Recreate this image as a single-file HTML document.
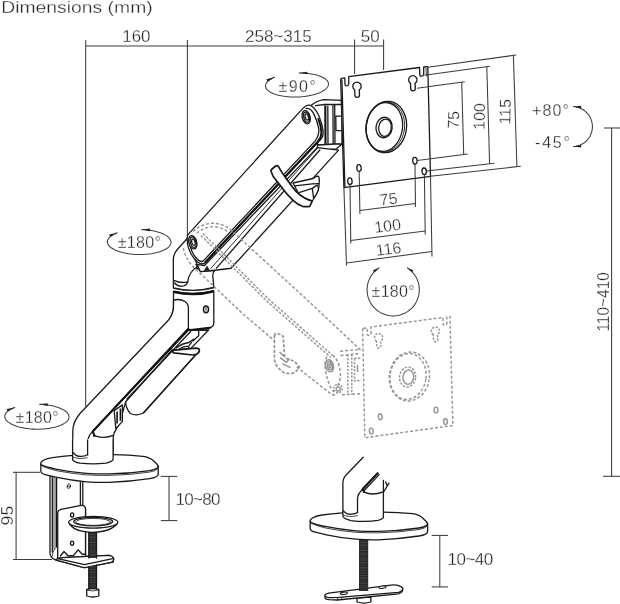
<!DOCTYPE html>
<html><head><meta charset="utf-8">
<style>
html,body{margin:0;padding:0;background:#fff;}
body{width:620px;height:604px;overflow:hidden;font-family:"Liberation Sans",sans-serif;}
svg{display:block;position:absolute;left:0;top:0;will-change:transform;opacity:0.999;}
text{font-family:"Liberation Sans",sans-serif;fill:#262626;stroke:#fff;stroke-width:0.3px;paint-order:fill stroke;}
.d{stroke:#3c3c3c;stroke-width:1.05;fill:none;}
.k{stroke:#1a1a1a;stroke-width:1.3;fill:none;stroke-linecap:round;stroke-linejoin:round;}
.kf{stroke:#1a1a1a;stroke-width:1.3;fill:#fff;stroke-linecap:round;stroke-linejoin:round;}
.t{stroke:#222;stroke-width:0.85;fill:none;stroke-linecap:round;stroke-linejoin:round;}
.tf{stroke:#222;stroke-width:0.85;fill:#fff;stroke-linecap:round;stroke-linejoin:round;}
.b{stroke:#111;stroke-width:2.1;fill:none;stroke-linecap:round;stroke-linejoin:round;}
.g{stroke:#949494;stroke-width:1.45;fill:none;stroke-dasharray:3 2;stroke-linejoin:round;}
.gf{stroke:#949494;stroke-width:1.45;fill:#fff;stroke-dasharray:3 2;stroke-linejoin:round;}
.a{fill:#222;stroke:none;}
</style></head>
<body>
<svg width="620" height="604" viewBox="0 0 620 604">
<!-- TITLE -->
<text x="1.2" y="13" font-size="16.9" textLength="151.5" lengthAdjust="spacingAndGlyphs">Dimensions (mm)</text>
<!-- DIMS TOP -->
<g class="d"><path d="M85.7 40V406.5"/><path d="M187.4 40V236"/><path d="M85.7 46H383.6"/><path d="M354.6 39.5V74"/><path d="M383.6 39.5V70"/></g>
<text x="122.2" y="41.8" font-size="17">160</text>
<text x="245" y="41.8" font-size="17">258~315</text>
<text x="360.8" y="41.8" font-size="17">50</text>
<!-- ROTATION MARKS -->
<path class="d" d="M298.8 73.0L300.4 73.0L302.1 73.0L303.7 73.1L305.3 73.2L306.9 73.3L308.4 73.5L309.9 73.7L311.4 73.9L312.9 74.2L314.3 74.4L315.6 74.8L316.9 75.1L318.2 75.5L319.4 75.9L320.5 76.3L321.5 76.8L322.5 77.2L323.5 77.7L324.3 78.2L325.1 78.8L325.8 79.3L326.4 79.9L327.0 80.4L327.4 81.0L327.8 81.6L328.1 82.2L328.3 82.9L328.4 83.5L328.5 84.1L328.4 84.7L328.3 85.4L328.1 86.0L327.8 86.6L327.4 87.2L326.9 87.9L326.3 88.5L325.7 89.1L325.0 89.7L324.2 90.2L323.3 90.8L322.4 91.3L321.4 91.9L320.3 92.4L319.2 92.9L318.0 93.3L316.7 93.8L315.4 94.2L314.0 94.6L312.6 95.0L311.2 95.3L309.7 95.6L308.2 95.9L306.6 96.1L305.0 96.4L303.4 96.6L301.8 96.7L300.2 96.9L298.5 96.9L296.9 97.0L295.2 97.0L293.6 97.0L291.9 97.0L290.3 96.9L288.7 96.8L287.1 96.7L285.6 96.5L284.1 96.3L282.6 96.1L281.1 95.8L279.7 95.6L278.4 95.2L277.1 94.9L275.8 94.5L274.6 94.1L273.5 93.7L272.5 93.2L271.5 92.8L270.5 92.3L269.7 91.8L268.9 91.2L268.2 90.7L267.6 90.1L267.0 89.6L266.6 89.0L266.2 88.4L265.9 87.8L265.7 87.1L265.6 86.5L265.5 85.9L265.6 85.3L265.7 84.6L265.9 84.0L266.2 83.4L266.6 82.8L267.1 82.1L267.7 81.5L268.3 80.9L269.0 80.3L269.8 79.8L270.7 79.2L271.6 78.7L272.6 78.1L273.7 77.6L274.8 77.1"/><path class="a" d="M298.8 73.0L307.3 71.7L307.3 74.3Z"/><path class="a" d="M274.8 77.1L267.5 81.7L266.5 79.3Z"/>
<text x="278.4" y="91.5" font-size="16" textLength="37.5">±90°</text>
<path class="d" d="M141.5 229.6L143.2 229.6L144.8 229.7L146.5 229.9L148.1 230.1L149.7 230.3L151.2 230.5L152.8 230.8L154.3 231.1L155.7 231.4L157.1 231.8L158.5 232.2L159.8 232.6L161.0 233.1L162.2 233.5L163.3 234.0L164.4 234.6L165.4 235.1L166.3 235.6L167.1 236.2L167.9 236.8L168.6 237.4L169.2 238.0L169.7 238.7L170.1 239.3L170.5 239.9L170.7 240.6L170.9 241.2L171.0 241.9L171.0 242.6L170.9 243.2L170.7 243.9L170.5 244.5L170.1 245.1L169.7 245.8L169.2 246.4L168.6 247.0L167.9 247.6L167.1 248.2L166.3 248.7L165.4 249.3L164.4 249.8L163.3 250.3L162.2 250.8L161.0 251.2L159.8 251.7L158.5 252.1L157.1 252.5L155.7 252.8L154.3 253.1L152.8 253.4L151.3 253.7L149.7 253.9L148.1 254.1L146.5 254.2L144.9 254.3L143.2 254.4L141.6 254.5L139.9 254.5L138.2 254.5L136.6 254.4L134.9 254.4L133.2 254.2L131.6 254.1L130.0 253.9L128.4 253.7L126.9 253.4L125.3 253.1L123.9 252.8L122.4 252.5L121.0 252.1L119.7 251.7L118.4 251.3L117.2 250.8L116.0 250.4L114.9 249.9L113.8 249.3L112.9 248.8L112.0 248.2L111.1 247.7L110.4 247.1L109.7 246.5L109.1 245.9L108.6 245.2L108.2 244.6L107.9 243.9L107.6 243.3L107.5 242.6L107.4 242.0L107.4 241.3L107.5 240.7L107.7 240.0L108.0 239.4L108.4 238.7L108.8 238.1L109.3 237.5L110.0 236.9L110.7 236.3L111.4 235.7L112.3 235.1L113.2 234.6L114.2 234.1L115.3 233.6L116.4 233.1L117.6 232.7"/><path class="a" d="M141.5 229.6L150.1 228.6L150.0 231.2Z"/><path class="a" d="M117.6 232.7L110.1 236.9L109.2 234.4Z"/>
<text x="117.8" y="248.3" font-size="16" textLength="43">±180°</text>
<path class="d" d="M39.2 404.3L40.9 404.3L42.6 404.4L44.2 404.6L45.9 404.8L47.5 405.0L49.1 405.2L50.6 405.5L52.1 405.8L53.6 406.1L55.0 406.5L56.4 406.9L57.7 407.3L58.9 407.8L60.1 408.2L61.2 408.7L62.3 409.3L63.3 409.8L64.2 410.3L65.1 410.9L65.8 411.5L66.5 412.1L67.1 412.7L67.7 413.4L68.1 414.0L68.5 414.6L68.7 415.3L68.9 415.9L69.0 416.6L69.0 417.3L68.9 417.9L68.7 418.6L68.5 419.2L68.1 419.9L67.7 420.5L67.2 421.1L66.5 421.7L65.9 422.3L65.1 422.9L64.2 423.4L63.3 424.0L62.3 424.5L61.3 425.0L60.1 425.5L58.9 425.9L57.7 426.4L56.4 426.8L55.0 427.2L53.6 427.5L52.1 427.8L50.6 428.1L49.1 428.4L47.5 428.6L45.9 428.8L44.3 428.9L42.6 429.0L41.0 429.1L39.3 429.2L37.6 429.2L35.9 429.2L34.2 429.1L32.6 429.1L30.9 428.9L29.2 428.8L27.6 428.6L26.0 428.4L24.4 428.1L22.9 427.8L21.4 427.5L20.0 427.2L18.5 426.8L17.2 426.4L15.9 426.0L14.6 425.5L13.5 425.1L12.3 424.6L11.3 424.0L10.3 423.5L9.4 422.9L8.6 422.4L7.8 421.8L7.1 421.2L6.6 420.5L6.0 419.9L5.6 419.3L5.3 418.6L5.0 418.0L4.9 417.3L4.8 416.7L4.8 416.0L4.9 415.4L5.1 414.7L5.4 414.1L5.8 413.4L6.2 412.8L6.8 412.2L7.4 411.6L8.1 411.0L8.9 410.4L9.7 409.8L10.7 409.3L11.7 408.8L12.7 408.3L13.9 407.8L15.1 407.4"/><path class="a" d="M39.2 404.3L47.8 403.3L47.7 405.9Z"/><path class="a" d="M15.1 407.4L7.6 411.6L6.7 409.1Z"/>
<text x="15.6" y="422.9" font-size="16" textLength="43">±180°</text>
<path class="d" d="M407.0 267.7L408.2 268.4L409.3 269.2L410.3 270.1L411.4 271.1L412.3 272.0L413.2 273.1L414.1 274.1L414.9 275.3L415.6 276.4L416.3 277.6L416.9 278.9L417.4 280.1L417.9 281.4L418.3 282.7L418.7 284.1L418.9 285.4L419.1 286.8L419.2 288.1L419.3 289.5L419.3 290.9L419.2 292.3L419.0 293.6L418.8 295.0L418.5 296.3L418.1 297.7L417.6 299.0L417.1 300.2L416.5 301.5L415.9 302.7L415.2 303.9L414.4 305.0L413.6 306.1L412.7 307.2L411.8 308.2L410.8 309.1L409.7 310.0L408.6 310.8L407.5 311.6L406.3 312.4L405.1 313.0L403.9 313.6L402.6 314.1L401.3 314.6L400.0 315.0L398.7 315.3L397.3 315.6L395.9 315.8L394.6 315.9L393.2 315.9L391.8 315.9L390.5 315.8L389.1 315.6L387.7 315.3L386.4 315.0L385.1 314.6L383.8 314.1L382.5 313.6L381.3 313.0L380.1 312.4L378.9 311.6L377.8 310.8L376.7 310.0L375.6 309.1L374.6 308.2L373.7 307.2L372.8 306.1L372.0 305.0L371.2 303.9L370.5 302.7L369.9 301.5L369.3 300.2L368.8 299.0L368.3 297.7L367.9 296.3L367.6 295.0L367.4 293.6L367.2 292.3L367.1 290.9L367.1 289.5L367.2 288.1L367.3 286.8L367.5 285.4L367.7 284.1L368.1 282.7L368.5 281.4L369.0 280.1L369.5 278.9L370.1 277.6L370.8 276.4L371.5 275.3L372.3 274.1L373.2 273.1L374.1 272.0L375.0 271.1L376.1 270.1L377.1 269.2L378.2 268.4L379.4 267.7"/><path class="a" d="M407.0 267.7L413.4 270.3L412.0 272.5Z"/><path class="a" d="M379.4 267.7L374.4 272.5L373.0 270.3Z"/>
<text x="371.6" y="296.5" font-size="16" textLength="43">±180°</text>
<path class="d" d="M573.1 106.6L574.2 106.7L575.2 106.8L576.3 107.0L577.3 107.2L578.3 107.5L579.3 107.8L580.3 108.2L581.3 108.7L582.2 109.2L583.1 109.7L584.0 110.3L584.8 110.9L585.6 111.6L586.4 112.3L587.1 113.1L587.8 113.9L588.5 114.7L589.1 115.6L589.7 116.5L590.2 117.4L590.6 118.4L591.0 119.4L591.4 120.4L591.7 121.4L592.0 122.4L592.1 123.4L592.3 124.5L592.4 125.5L592.4 126.6L592.4 127.7L592.3 128.7L592.1 129.8L592.0 130.8L591.7 131.8L591.4 132.8L591.0 133.8L590.6 134.8L590.2 135.8L589.7 136.7L589.1 137.6L588.5 138.5L587.8 139.3L587.1 140.1L586.4 140.9L585.6 141.6L584.8 142.3L584.0 142.9L583.1 143.5L582.2 144.0L581.3 144.5L580.3 145.0L579.3 145.4L578.3 145.7L577.3 146.0L576.3 146.2L575.2 146.4L574.2 146.5L573.1 146.6"/><path class="a" d="M573.1 106.6L581.2 105.8L581.0 108.4Z"/><path class="a" d="M573.1 146.6L581.0 144.8L581.2 147.4Z"/>
<text x="532" y="115.6" font-size="16" textLength="37">+80°</text>
<text x="535" y="148" font-size="16" textLength="35">-45°</text>
<!-- DIM 110~410 -->
<g class="d"><path d="M611.6 128V476.3"/><path d="M604 128H620"/><path d="M603 476.3H620"/></g>
<text transform="translate(608.9,331.6) rotate(-90)" font-size="16.6" textLength="59.5" lengthAdjust="spacingAndGlyphs">110~410</text>
<!-- DIM 95 / 10~80 / 10~40 -->
<g class="d"><path d="M13 472.3H40"/><path d="M13 559.4H52"/><path d="M16.1 472.3V559.4"/><path d="M169 476.4V520.6"/><path d="M160.8 476.4H177.3"/><path d="M160.8 520.6H177.3"/><path d="M439.8 535.4V586.9"/><path d="M431.7 535.4H448"/><path d="M431.7 586.9H448"/></g>
<text transform="translate(12.8,525.4) rotate(-90)" font-size="17" textLength="19.6" lengthAdjust="spacingAndGlyphs">95</text>
<text x="175.6" y="504.7" font-size="17" textLength="44.8">10~80</text>
<text x="447.6" y="565.3" font-size="17" textLength="45.6">10~40</text>
<!-- GHOST -->
<!-- ARM -->
<g>
<path class="kf" d="M311 105.5 Q316 101 323.5 99.6 L342 100.3 L342 144 L317.8 145 Z"/>
<path class="k" d="M315.5 105.6 L324.8 104.5 L342 104.5"/>
<path class="b" d="M325.3 106.2 L325.5 144.5"/><path class="k" d="M327.8 106.2 L328 144.3"/>
<path class="k" d="M332.9 105 L333.2 143.8"/><path class="k" d="M334.7 105 L335 143.6"/>
<path class="kf" d="M335.8 116.1 H342 V130.6 H336 Z"/>
<path class="kf" d="M317.2 146.8 L317.8 145 L338.7 143.9 L341.5 144.5 L336.4 148.8 L320.1 150.3 Z"/>
</g>
<path class="kf" d="M187.2 238.5 L177.5 249.3 Q173.3 254 173.3 260 L173.4 288 Q193 293 213.8 287.5 L213 278 Q212 273 214.9 270.3 L200.5 271.7 L196 262 Z"/>
<path class="k" d="M194.6 268.4 Q190.4 272.6 189 276.4 Q188 279.6 187.7 282"/>
<path class="k" d="M174.4 280.6 Q181 283.6 187.6 281.8"/><path class="k" d="M174.6 283 Q178 287.2 184 285.8 Q186.8 284.8 187.7 282"/>
<path class="kf" d="M173.5 291.5 L173.5 307 Q173.5 313 169 319.5 L190 332 L210 327.7 Q213.8 326.5 213.8 323 L213.8 291 Q193.6 296 173.5 291.5 Z"/>
<path class="t" d="M173.6 288.3 Q193.6 293.2 213.6 287.9"/>
<path d="M173.4 291.7 Q193.6 296.6 213.8 291.2" fill="none" stroke="#111" stroke-width="2.6"/>
<ellipse class="kf" cx="206" cy="309.4" rx="2.5" ry="3.3" style="stroke-width:1.5"/><path class="t" d="M206 307.6V311.2"/>
<path class="b" d="M188.4 330.3 L210 327.7"/>
<path class="t" d="M189 332.2 L208.6 330"/>
<path class="kf" d="M172.9 348.2 L125.7 401.6 Q125.5 408 130.3 413.5 Q137 416.5 143.6 412.8 L199.3 351 Z"/>
<path class="kf" d="M208.6 330 L190.7 348.6 L172 350 L125.7 401.6 Q121 420 115.8 430 Q113.4 433 113.2 437.5 L113.2 460.4 Q100 466 87.7 461 L87.5 440 Q88 434 92.6 431.4 L188.4 330.3 Z"/>
<path class="k" d="M198.7 331 V335.8 L192.9 341.1"/>
<path class="k" d="M176.5 347.6 Q182 343.4 189 342.4 L193.6 339.4" style="stroke-width:1.5"/>
<path class="k" d="M179.5 349 Q183 345.8 187.6 346.4 Q190 347.6 188.6 349.6 M189 345.6 L191.4 342.6"/>
<path class="kf" d="M172.4 350.4 L195.8 348.2 Q199.5 348.2 199.4 350.6 Q199 353.2 196 354.3 L192.9 355 L173.4 352.9 Z" style="stroke-width:1.7"/>
<path class="k" d="M195.8 354.6 L143.6 412.8"/>
<path class="kf" d="M114.2 410.8 L122.4 404.9 L122.4 421.4 L115.8 428.7 Z"/>
<path d="M117.1 411.5 V423.4 M120.4 408.5 V421" fill="none" stroke="#111" stroke-width="1.6"/>
<path class="kf" d="M173.5 300 Q180 298.5 185 301.5 Q188.4 304 188.4 308 L188.4 328.8 L92.6 431.4 Q87.9 436 87.7 442 L87.7 458 Q80 462 72.8 459.4 L72.8 431 Q72.8 422 80 413.5 L169 319.5 Q173.5 313 173.5 307 Z"/>
<path class="b" d="M188.4 328.8 L92.9 431.2 L94.3 436"/>
<path class="k" d="M190.6 331.5 L127 399"/>
<path class="k" d="M93.9 434.7 Q97 437.5 103.8 437.3 Q109 437 113.1 435.3"/>
<path class="k" d="M72.8 455 Q80 459.5 87.7 456.5"/>
<g transform="translate(188.2,234.4) rotate(-47.7)">
<path class="kf" d="M-17 26 L-19.3 34.2 L-8.5 43.9 L3.8 54.5 L163.5 54.5 L151 37 L-12 33 Z"/>
<path class="t" d="M-10 39.6 L152 37.6"/>
<path class="k" d="M-6 43.6 L151 40.6"/>
<path class="kf" d="M0 0 L170 0 Q177.5 0 178 5 Q178.5 12 174 20 Q169 30 163 33.5 Q160 34.4 155 34 L-8 31.8 Q-13.5 31.6 -14 26 Q-14.5 20 -12 14 Q-8 5 -3 1.5 Q-1.5 0 0 0 Z"/>
<path class="b" d="M-9 31.2 L156 33.4 Q161 33.4 165 30 Q169.5 25.6 173 18.6" style="stroke-width:1.9"/>
<path class="k" d="M-2 3.2 Q-6.6 7 -10.2 14.6 Q-12.4 20 -12.2 25 Q-12 28.8 -9 29 L155 31 Q161 30.4 166 25.6 Q171 19 174 11 Q175.6 5 172.5 2.5"/>
</g>
<g transform="rotate(-15 192.8 242.3)"><ellipse class="kf" cx="192.8" cy="242.3" rx="3.9" ry="6.8"/><ellipse class="k" cx="193.20000000000002" cy="242.3" rx="2.8" ry="5.2"/><ellipse class="k" cx="193.4" cy="242.3" rx="1.6" ry="3.2"/></g>
<g transform="rotate(-15 306.2 117.2)"><ellipse class="kf" cx="306.2" cy="117.2" rx="3.9" ry="6.8"/><ellipse class="k" cx="306.59999999999997" cy="117.2" rx="2.8" ry="5.2"/><ellipse class="k" cx="306.8" cy="117.2" rx="1.6" ry="3.2"/></g>
<path class="kf" d="M293 183 L313 178.5 Q316.5 176 318 176 Q319.6 177 319.3 181 L319 186 Q319 190 316 195 L312.3 201 L300 196 Z"/>
<path class="k" d="M295 185.8 L312.3 183.8 L318.8 183.6"/>
<path class="kf" d="M312.3 188.4 L317 185.1 Q318.8 186.5 318.3 189.7 Q317 194 313.6 198.3 Z"/>
<path class="k" d="M299.7 192.4 L312.3 188.4"/>
<path class="kf" style="stroke-width:1.7" d="M271.3 171.9 Q270.3 170.5 271.5 169.5 L275.6 166 Q277.3 165 278.5 166.6 Q282 173 286.5 179.1 Q291 185.5 295.8 191.1 Q300 195.5 305 198.3 Q308.5 200.3 312.3 201 L309.7 206.3 Q306 207 302.4 206.3 Q297.5 204.5 293.1 200.3 Q287 194.5 282.5 188.4 Q277 181.5 273.2 176.5 Z"/>
<path d="M195.2 268.6 L197.6 264.6 L199.6 269.4 Z M204.2 270.6 L207.1 266.2 L209.2 270 Z" fill="#222" stroke="#222" stroke-width="0.8" stroke-linejoin="round"/>
<!-- VESA -->
<path class="kf" d="M341.6 78.3 Q340.6 78.5 340.7 79.5 L343.9 187.6 L430.5 176.3 L427.8 67.5 Q427.8 66.5 426.8 66.6 L423.7 67 L423.7 74.2 Q423.6 76 421.7 76.2 Q419.9 76.4 419.8 74.6 L419.5 67.5 L348.7 76.6 L348.8 83.8 Q348.8 85.6 346.9 85.8 Q345.1 86 345 84.2 L344.8 77.8 Z"/>
<path class="k" d="M341.9 80 L344.9 187.4"/>
<path class="t" d="M426 68 L426.4 76"/>
<path class="kf" d="M354.7 89.8A4.2 4.2 0 1 1 359.3 89.8L359.5 95.0A2.3 2.3 0 0 1 354.9 95.0Z"/>
<path class="kf" d="M410.5 83.4A4.2 4.2 0 1 1 415.1 83.4L415.3 88.6A2.3 2.3 0 0 1 410.7 88.6Z"/>
<ellipse class="kf" cx="359" cy="168" rx="2.2" ry="3.3" transform="rotate(-5 359 168)"/>
<ellipse class="kf" cx="349.9" cy="181.2" rx="2.2" ry="3.3" transform="rotate(-5 349.9 181.2)"/>
<ellipse class="kf" cx="414.9" cy="160.7" rx="2.2" ry="3.3" transform="rotate(-5 414.9 160.7)"/>
<ellipse class="kf" cx="424.2" cy="171.3" rx="2.2" ry="3.3" transform="rotate(-5 424.2 171.3)"/>
<ellipse class="k" cx="386.3" cy="127" rx="20.2" ry="25.8" transform="rotate(8 386.3 127)"/>
<ellipse class="t" cx="385.4" cy="127" rx="19.2" ry="25.2" transform="rotate(8 385.4 127)"/>
<ellipse class="k" cx="384.4" cy="127" rx="18.1" ry="24.5" transform="rotate(8 384.4 127)"/>
<ellipse class="k" cx="384.1" cy="127.5" rx="8.1" ry="10.3" transform="rotate(8 384.1 127.5)"/>
<ellipse class="k" cx="385" cy="127.7" rx="6.3" ry="8.7" transform="rotate(8 385 127.7)"/>
<!-- VESA DIMS -->
<g class="d"><path d="M359.2 171.5L359.9 214"/><path d="M415 164L415.5 207"/><path d="M359.9 210.6L415.4 203.5"/><path d="M350 184.6L350.8 243.5"/><path d="M424.4 174.7L425.2 234.5"/><path d="M350.8 240.4L425.2 231"/><path d="M343.9 187.6L346.5 265.5"/><path d="M430.5 176.3L432 256.5"/><path d="M346.4 263L431.9 251.6"/><path d="M417 88.2L464.8 81.7"/><path d="M417.2 160.4L467.6 154"/><path d="M461.7 82.1L463.7 154.5"/><path d="M424.5 75.2L489.8 66.2"/><path d="M426.5 171L494.3 163.3"/><path d="M486.8 66.6L489.6 163.8"/><path d="M427.8 67.2L516.2 55"/><path d="M430.5 176.3L520.8 166.2"/><path d="M513.4 55.4L516.9 166.6"/></g>
<text transform="translate(380.3,205.6) rotate(-7)" font-size="16">75</text>
<text transform="translate(375,233) rotate(-7)" font-size="16">100</text>
<text transform="translate(376.5,256) rotate(-7)" font-size="16">116</text>
<text transform="translate(458.8,128.8) rotate(-88.5)" font-size="16">75</text>
<text transform="translate(484.5,130) rotate(-88.5)" font-size="16">100</text>
<text transform="translate(510.2,124.6) rotate(-88.5)" font-size="16">115</text>
<!-- BASE1 (clamp) -->
<path class="kf" d="M50 474 L50 553.5 Q50.5 558 55.5 559.8 L84.3 567.6 L113.2 562 L113.8 558.7 L108.7 555.4 L85.5 556.5 L85.5 508 L82.8 505.2 L82.8 478 L50 474 Z"/>
<path class="k" d="M52.3 477 V552"/><path class="t" d="M54 477 V549"/>
<path d="M56.4 478 V547.5" stroke="#111" stroke-width="1.7" fill="none"/>
<path class="t" d="M55.5 548 L53 552 L52.3 556"/>
<path class="k" d="M80.4 480 V505.8"/>
<ellipse class="t" cx="68.8" cy="486.2" rx="1.7" ry="2.3" transform="rotate(15 68.8 486.2)"/><path class="t" d="M67.2 486.6 L70.4 485.8"/>
<path class="kf" d="M57.7 514 Q57.7 510 61 509.3 L80 505.6 Q85.5 504.8 85.5 509 L85.5 556.5 L63.3 557.6 L57.7 558.5 Z"/>
<ellipse cx="72.1" cy="515" rx="1.6" ry="2.1" fill="#fff" stroke="#111" stroke-width="1.3"/>
<ellipse cx="72.1" cy="543.2" rx="1.6" ry="2.1" fill="#fff" stroke="#111" stroke-width="1.3"/>
<path class="k" d="M60.5 556 L64 551.5 L68 555.8 L73.5 555.5 L78 549.8 L82.5 554.5 L85.5 554"/>
<path class="kf" d="M55.5 559.8 L57.7 558.5 L63.3 557.6 L108.7 555.4 Q112.5 555.6 113.6 558.2 Q114 561.5 111 562.4 L86 567.4 Q84 567.8 82 567.2 Z"/>
<path class="k" d="M57.7 558.6 L84.5 564.6 L112.5 558.6"/>
<rect x="88.4" y="531" width="8.6" height="27" fill="#2a2a2a"/><path d="M92.7 531 V558" stroke="#5a5a5a" stroke-width="7.6" stroke-dasharray="0.35 1.3" fill="none"/>
<path class="k" d="M88.9 531 V558 M96.5 531 V558"/>
<rect x="88.4" y="566" width="8.6" height="23.4" fill="#2a2a2a"/><path d="M92.7 566 V589.4" stroke="#5a5a5a" stroke-width="7.6" stroke-dasharray="0.35 1.3" fill="none"/>
<path class="k" d="M88.9 566.6 V589 M96.5 565.2 V589"/>
<path class="kf" d="M86.7 589.5 Q92.7 587.8 98.8 589.5 L98.8 596 Q92.7 598 86.7 596 Z" style="stroke-width:1.3"/>
<path class="t" d="M86.7 590 Q92.7 592 98.8 590"/>
<path class="kf" d="M69.5 524 Q74 530 82 531.2 Q92 533.5 104 531 Q112 529.5 117 524 Z"/>
<ellipse class="kf" cx="93.2" cy="522.3" rx="24.6" ry="5.9" style="stroke-width:1.3"/>
<ellipse class="k" cx="93.2" cy="521.6" rx="19.5" ry="4.3"/>
<ellipse class="t" cx="93.2" cy="521.9" rx="17.5" ry="3.5"/>
<path class="kf" d="M40.8 463.7 L40.8 471.2 Q41.0 473.6 46.0 474.8 L57.1 477.4 Q72.0 480.6 86.4 481.8 Q98.0 482.7 109.0 482.4 Q130.0 481.6 149.6 478.6 Q158.0 477.2 158.2 474.2 L158.2 466.0 Z"/><path class="kf" d="M52.6 457.6 Q62.0 456.1 72.9 455.4 Q93.0 454.5 113.5 454.7 Q129.0 454.9 142.9 456.3 Q149.5 457.2 153.0 460.3 L157.0 464.3 Q159.0 466.6 157.0 468.2 Q154.5 469.8 149.6 470.6 Q130.0 473.6 109.0 473.9 Q97.0 474.1 86.4 473.4 Q71.0 472.2 57.1 469.3 Q46.0 467.3 42.0 465.2 Q39.6 463.6 41.8 461.6 L43.5 460.3 Q47.0 458.3 52.6 457.6 Z"/><path class="t" d="M41.6 465.6 Q44.5 467.8 57.1 470.8 Q72.0 473.7 86.4 474.9 Q98.0 475.6 109.0 475.4 Q130.0 475.0 149.6 472.1 Q156.0 471.0 157.8 468.6"/>
<path class="kf" d="M72.6 440 L72.6 459.6 Q74 462 80 463.2 Q93 464.6 106 463.2 Q112 462 113.1 459.6 L113.1 440 Z" />
<path d="M73.2 440 H112.5" stroke="#fff" stroke-width="2" fill="none"/>
<path class="k" d="M87.6 440 V455"/>
<path class="k" d="M73.6 452.8 Q76 456.6 81.5 456.4 Q86 456 87.6 454.4"/>
<path class="t" d="M73 457 Q78 459.6 87 457.8"/>
<!-- BASE2 (grommet) -->
<path class="kf" d="M357 598 V602 Q364 604.2 370.8 602 V597 Z"/>
<path class="kf" d="M324.9 595.8 L325.1 598.1 Q325.6 599.5 329 599.7 L337.4 600 L398.4 593.9 Q401.6 593.1 402.6 590.7 L402.7 588.2 Z"/>
<path class="kf" d="M328.7 593.1 L391.1 585.1 Q396 584.6 399.1 585.8 Q402.4 587 402.7 588.2 Q402.8 589.8 401.3 590.9 Q400 591.9 398.4 592.3 L338.9 597.4 L328.7 597.7 Q325.6 597.2 324.9 595.8 Q324.6 594.2 328.7 593.1 Z"/>
<path class="t" d="M337.6 597.6 V600 M341.8 597.3 V599.5"/>
<ellipse cx="343.9" cy="593.3" rx="3.6" ry="1.2" transform="rotate(-6 343.9 593.3)" fill="#fff" stroke="#222" stroke-width="1.1"/>
<ellipse cx="382.4" cy="587.2" rx="3.6" ry="1.2" transform="rotate(-6 382.4 587.2)" fill="#fff" stroke="#222" stroke-width="1.1"/>
<rect x="359" y="539" width="9.2" height="52" fill="#2a2a2a"/>
<path d="M363.6 539 V591" stroke="#555" stroke-width="8" stroke-dasharray="0.35 1.3" fill="none"/>
<path class="kf" d="M310.2 521.1 L310.2 528.6 Q310.4 531.0 315.4 532.2 L326.5 534.8 Q341.4 538.0 355.8 539.2 Q367.4 540.1 378.4 539.8 Q399.4 539.0 419.0 536.0 Q427.4 534.6 427.6 531.6 L427.6 523.4 Z"/><path class="kf" d="M322.0 515.0 Q331.4 513.5 342.3 512.8 Q362.4 511.9 382.9 512.1 Q398.4 512.3 412.3 513.7 Q418.9 514.6 422.4 517.7 L426.4 521.7 Q428.4 524.0 426.4 525.6 Q423.9 527.2 419.0 528.0 Q399.4 531.0 378.4 531.3 Q366.4 531.5 355.8 530.8 Q340.4 529.6 326.5 526.7 Q315.4 524.7 311.4 522.6 Q309.0 521.0 311.2 519.0 L312.9 517.7 Q316.4 515.7 322.0 515.0 Z"/><path class="t" d="M311.0 523.0 Q313.9 525.2 326.5 528.2 Q341.4 531.1 355.8 532.3 Q367.4 533.0 378.4 532.8 Q399.4 532.4 419.0 529.5 Q425.4 528.4 427.2 526.0"/>
<path d="M363.2 457.3 L346.8 474.2 Q342.9 478 342.9 483 L342.9 516.6 Q344 519 351 520.6 Q366 522.4 378 520.4 Q382.6 519.4 383.4 517.6 L383.4 480.5 L377.7 473.2 Z" fill="#fff" stroke="none"/>
<path class="k" d="M363.2 457.3 L346.8 474.2 Q342.9 478 342.9 483 L342.9 516.6 Q344 519 351 520.6 Q366 522.4 378 520.4 Q382.6 519.4 383.4 517.6 L383.4 480.5"/>
<path class="k" d="M383.6 492 L389 483.2 M385.6 481.8 L387 485.6"/>
<path class="b" d="M377.7 473.2 L362.7 489 L364 492"/>
<path class="k" d="M379.2 474.6 L364.6 490"/>
<path class="k" d="M362.6 489.2 Q357.5 494 357.5 499 L357.5 512.6"/>
<path class="k" d="M364.3 492.2 Q372 496 383.4 491.8"/>
<path class="k" d="M343.3 510.6 Q346.2 514.6 351.5 514.2 Q355.6 513.8 357.5 512.4"/>
<path class="t" d="M343.2 515 Q349 517.8 357.4 515.6"/>
<path class="g" d="M193.2 231.6 Q197 227.5 201.5 225.8 Q207 223.3 213.1 223.3 Q219 223.5 224.7 225.8 Q230 228.5 234.6 233.2 L246.2 244 L307.3 300 L360.5 350" />
<path class="g" d="M196.6 233.2 Q204 227.2 213.1 226.6 Q221 227 227.5 231.5" />
<path class="g" d="M203 233.5 L269.5 300 L332.4 355.2" style="stroke-dasharray:2.6 1.6"/>
<path class="g" d="M201.2 235.6 L267.7 302 L330.8 357.4" style="stroke-dasharray:2.6 1.6"/>
<path class="g" d="M183.3 248.1 Q185 256 190 263 Q195 269.5 201.5 274.6 L243 314 L274.4 340.6" />
<path class="g" d="M296.6 366.8 L329.5 392.9 Q333 395.6 336.3 394.8" />
<path class="g" d="M332.4 355.2 Q337 358.5 339 365 Q341 372 340.2 378 Q339 384 336.3 388" />
<path class="g" d="M327 356.5 Q324 362 325.5 370 Q327 380 331 388 L334 392" />
<circle class="g" cx="338" cy="388.5" r="4.2" style="stroke-dasharray:2 1.2"/>
<circle class="g" cx="338.2" cy="389" r="2" style="stroke-dasharray:none"/>
<g transform="rotate(-15 329.5 365.8)"><ellipse class="g" cx="329.5" cy="365.8" rx="3.9" ry="6.2" style="stroke-dasharray:none"/><ellipse class="g" cx="329.8" cy="365.8" rx="2.4" ry="4.2" style="stroke-dasharray:none"/><ellipse class="g" cx="330" cy="365.8" rx="1.1" ry="2.2" style="stroke-dasharray:none"/></g>
<path class="g" d="M274.4 336 Q274.4 333.4 276.5 333.2 L281 334.6 Q283.4 335.6 283.4 338 L284.4 355.5 Q285 358.6 288.5 359.2 Q294 360.5 297.7 364.8 L299.3 367.2 Q297.5 371.5 292.5 373.3 Q287.5 374 284 372.4 Q278 369 275.6 363.5 Q274.4 361 274.4 358 Z" style="stroke-width:1.7;stroke-dasharray:3.2 1.6"/>
<path class="g" d="M279.5 352 L284 356.4 M280 357.6 L287 362.6 M282.5 363.6 L290.5 367.6 M287.2 362 L289 358.4" style="stroke-dasharray:none;stroke-width:1.5"/>
<path class="g" d="M340.2 351.3 L360.5 349.4 M340.5 355.5 L360.5 353.5" />
<path class="g" d="M347.9 354.5 V394.8 M351.8 354 V394.8" style="stroke-dasharray:2.2 1.4"/>
<path class="g" d="M342 394.8 L360.5 393.8" />
<path class="g" d="M354.5 358.5 L361 358 M354.5 358.5 V381 L361 380.6" style="stroke-dasharray:2.2 1.4"/>
<path class="g" d="M357.5 365 V372" style="stroke-dasharray:none"/>
<path class="g" d="M362.6 328.5 L364.8 437.7 L452.9 425.5 L449.9 316.5 L446.8 316.9 L446.9 323 Q446.8 325.2 445 325.4 Q443.2 325.6 443 323.4 L442.9 317.5 L371 327 L371.1 333 Q371 335.2 369.2 335.4 Q367.4 335.6 367.2 333.4 L367.1 327.8 Z" />
<path class="g" d="M376.5 341.1A4.1 4.1 0 1 1 380.7 341.1L380.9 346.1A2.1 2.1 0 0 1 376.7 346.1Z" style="stroke-dasharray:2.2 1.3"/>
<path class="g" d="M433.3 334.7A4.1 4.1 0 1 1 437.5 334.7L437.7 339.7A2.1 2.1 0 0 1 433.5 339.7Z" style="stroke-dasharray:2.2 1.3"/>
<ellipse class="g" cx="380.3" cy="416.8" rx="1.9" ry="2.9" transform="rotate(-5 380.3 416.8)" style="stroke-dasharray:none"/>
<ellipse class="g" cx="436" cy="410" rx="1.9" ry="2.9" transform="rotate(-5 436 410)" style="stroke-dasharray:none"/>
<ellipse class="g" cx="371.3" cy="431" rx="1.9" ry="2.9" transform="rotate(-5 371.3 431)" style="stroke-dasharray:none"/>
<ellipse class="g" cx="445.5" cy="421.6" rx="1.9" ry="2.9" transform="rotate(-5 445.5 421.6)" style="stroke-dasharray:none"/>
<ellipse class="g" cx="409.4" cy="376.5" rx="20" ry="24.5" transform="rotate(8 409.4 376.5)"/>
<ellipse class="g" cx="408" cy="376.5" rx="18" ry="23" transform="rotate(8 408 376.5)"/>
<ellipse class="g" cx="407.6" cy="377" rx="8" ry="10" transform="rotate(8 407.6 377)" style="stroke-dasharray:2.4 1.4"/>
<ellipse class="g" cx="408.3" cy="377.2" rx="5.4" ry="7.2" transform="rotate(8 408.3 377.2)" style="stroke-dasharray:none"/>
</svg>
</body></html>
